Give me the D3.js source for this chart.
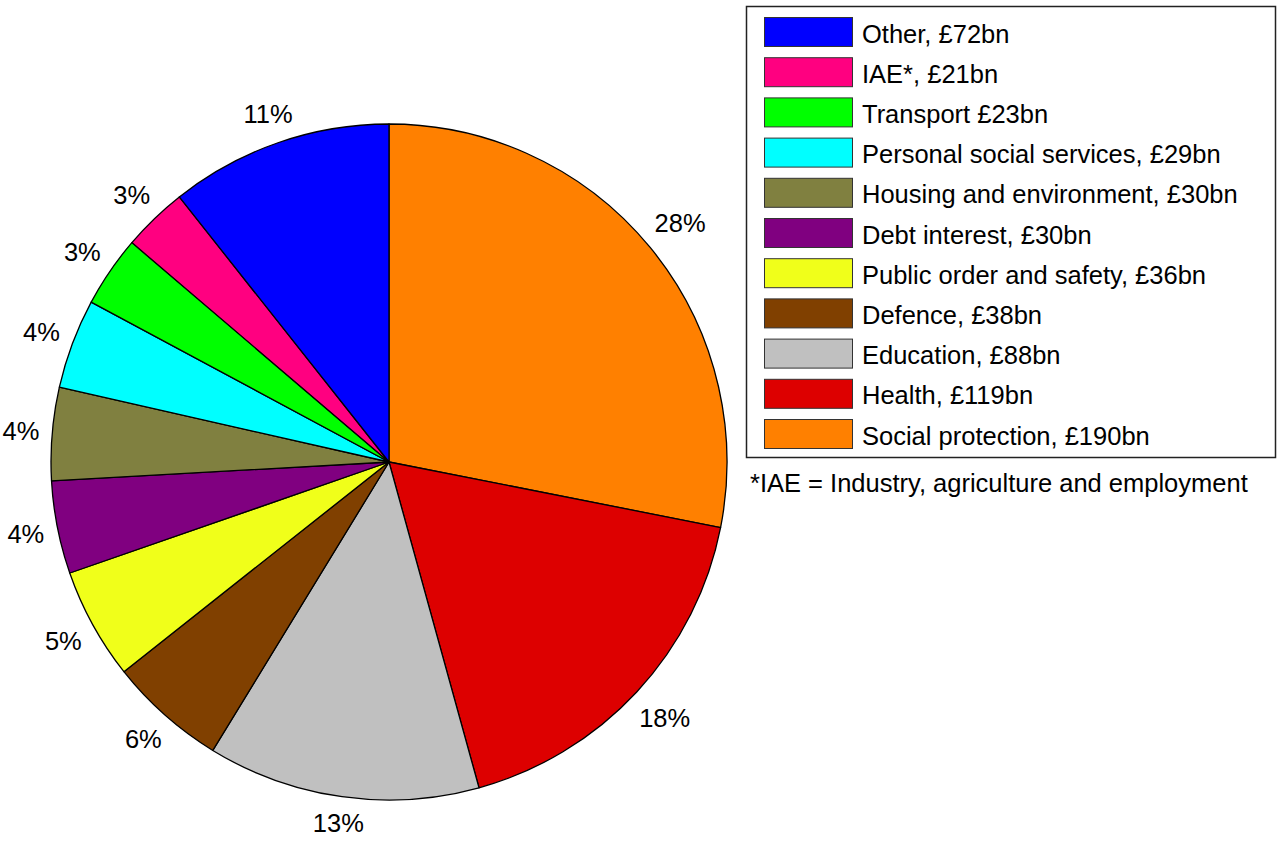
<!DOCTYPE html>
<html>
<head>
<meta charset="utf-8">
<script src="https://cdn.jsdelivr.net/npm/d3@7"></script>
<style>
  html, body { margin: 0; padding: 0; background: #fff; }
  svg { display: block; font-family: "Liberation Sans", Arial, sans-serif; }
</style>
</head>
<body>
<svg id="chart" width="1280" height="842"></svg>
<script>
// Data in clockwise order from 12 o'clock
const categories = ["Social protection", "Health", "Education", "Defence", "Public order and safety",
  "Debt interest", "Housing and environment", "Personal social services", "Transport", "IAE*", "Other"];
const values = [190, 119, 88, 38, 36, 30, 30, 29, 23, 21, 72];
const colors = ["#ff8000", "#dd0000", "#c0c0c0", "#804000", "#f0ff1a",
  "#800080", "#808040", "#00ffff", "#00ff00", "#ff0080", "#0000ff"];
// Legend text (top to bottom)
const legendLabels = ["Other, £72bn", "IAE*, £21bn", "Transport £23bn", "Personal social services, £29bn",
  "Housing and environment, £30bn", "Debt interest, £30bn", "Public order and safety, £36bn",
  "Defence, £38bn", "Education, £88bn", "Health, £119bn", "Social protection, £190bn"];
const legendCategories = ["Other", "IAE*", "Transport", "Personal social services", "Housing and environment",
  "Debt interest", "Public order and safety", "Defence", "Education", "Health", "Social protection"];
const footnote = "*IAE = Industry, agriculture and employment";

const svg = d3.select("#chart");
const cx = 389, cy = 462, R = 338;
const FS = 25.5;
const total = d3.sum(values);
const data = categories.map((c, i) => ({ name: c, value: values[i], color: colors[i] }));

const pie = d3.pie().value(d => d.value).sort(null);
const arcs = pie(data);
const arc = d3.arc().innerRadius(0).outerRadius(R);

const g = svg.append("g").attr("transform", `translate(${cx},${cy})`);
g.selectAll("path.slice").data(arcs).enter().append("path")
  .attr("class", "slice")
  .attr("d", arc)
  .attr("fill", d => d.data.color)
  .attr("stroke", "#000")
  .attr("stroke-width", 1.3)
  .attr("stroke-linejoin", "round");

// Percentage labels
const fmtPct = d => Math.round(d.value / total * 100) + "%";
g.selectAll("text.pct").data(arcs).enter().append("text")
  .attr("class", "pct")
  .attr("font-size", FS)
  .attr("fill", "#000")
  .attr("text-anchor", "middle")
  .text(fmtPct)
  .each(function(d) {
    const w = this.getComputedTextLength();
    const h = 22;
    const a = (d.startAngle + d.endAngle) / 2;
    const s = Math.sin(a), c = -Math.cos(a);
    const r = R + 12 + Math.abs(s) * w / 2 + Math.abs(c) * h / 2;
    d3.select(this).attr("x", r * s).attr("y", r * c + 9);
  });

// Legend
const colorOf = d3.scaleOrdinal().domain(categories).range(colors);
const legend = svg.append("g");
legend.append("rect")
  .attr("x", 746.5).attr("y", 6.5).attr("width", 529).attr("height", 451)
  .attr("fill", "#fff").attr("stroke", "#222").attr("stroke-width", 1.5);
const rowY = d3.scaleLinear().domain([0, 10]).range([17, 419]);
const rows = legend.selectAll("g.row").data(legendCategories).enter().append("g")
  .attr("class", "row")
  .attr("transform", (d, i) => `translate(0,${rowY(i)})`);
rows.append("rect")
  .attr("x", 764.5).attr("y", 0.5).attr("width", 88).attr("height", 29)
  .attr("fill", d => colorOf(d)).attr("stroke", "#333").attr("stroke-width", 1);
rows.append("text")
  .attr("x", 862).attr("y", 25.5)
  .attr("font-size", FS).attr("fill", "#000")
  .text((d, i) => legendLabels[i]);

svg.append("text")
  .attr("x", 750).attr("y", 492)
  .attr("font-size", FS).attr("fill", "#000")
  .text(footnote);
</script>
</body>
</html>
